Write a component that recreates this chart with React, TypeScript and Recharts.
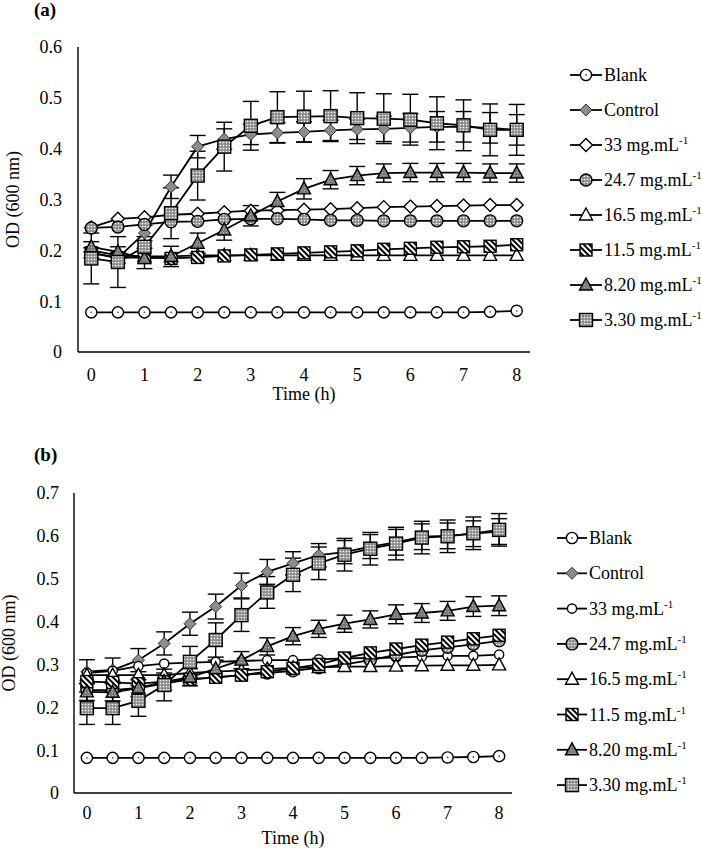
import React from 'react';
import { LineChart, Line, XAxis, YAxis, ErrorBar, Legend, Label } from 'recharts';

const FONT = '"Liberation Serif", "Times New Roman", Times, serif';

// ---------- shared ----------
const time = [0, 0.5, 1, 1.5, 2, 2.5, 3, 3.5, 4, 4.5, 5, 5.5, 6, 6.5, 7, 7.5, 8];
const xTicks = [0, 1, 2, 3, 4, 5, 6, 7, 8];
const yTicksA = [0, 0.1, 0.2, 0.3, 0.4, 0.5, 0.6];
const yTicksB = [0, 0.1, 0.2, 0.3, 0.4, 0.5, 0.6, 0.7];
const legendLabels = ['Blank', 'Control', '33 mg.mL', '24.7 mg.mL', '16.5 mg.mL', '11.5 mg.mL', '8.20 mg.mL', '3.30 mg.mL'];
const legendSup = ['', '', '-1', '-1', '-1', '-1', '-1', '-1'];

// ---------- panel (a) ----------
const blankA = [0.078, 0.078, 0.078, 0.078, 0.078, 0.078, 0.078, 0.078, 0.078, 0.078, 0.078, 0.078, 0.078, 0.078, 0.078, 0.079, 0.081];
const controlA = [0.195, 0.185, 0.234, 0.325, 0.404, 0.419, 0.428, 0.431, 0.433, 0.436, 0.438, 0.439, 0.441, 0.443, 0.443, 0.441, 0.437];
const controlErrA = [0.01, 0.01, 0.015, 0.023, 0.022, 0.02, 0.02, 0.02, 0.02, 0.02, 0.02, 0.025, 0.028, 0.03, 0.03, 0.03, 0.03];
const c33A = [0.245, 0.262, 0.265, 0.27, 0.272, 0.275, 0.278, 0.279, 0.28, 0.281, 0.283, 0.285, 0.286, 0.287, 0.288, 0.289, 0.289];
const c247A = [0.244, 0.246, 0.251, 0.256, 0.257, 0.261, 0.262, 0.262, 0.261, 0.259, 0.259, 0.258, 0.258, 0.258, 0.258, 0.258, 0.258];
const c165A = [0.2, 0.19, 0.188, 0.188, 0.19, 0.19, 0.19, 0.19, 0.19, 0.19, 0.19, 0.19, 0.19, 0.19, 0.19, 0.19, 0.19];
const c115A = [0.195, 0.185, 0.186, 0.184, 0.186, 0.189, 0.191, 0.193, 0.195, 0.197, 0.199, 0.202, 0.204, 0.206, 0.207, 0.208, 0.211];
const c820A = [0.207, 0.197, 0.184, 0.188, 0.214, 0.24, 0.268, 0.296, 0.321, 0.339, 0.347, 0.352, 0.353, 0.353, 0.353, 0.352, 0.352];
const c820ErrA = [0.01, 0.01, 0.02, 0.02, 0.02, 0.02, 0.02, 0.018, 0.02, 0.018, 0.018, 0.018, 0.018, 0.018, 0.018, 0.018, 0.018];
const c330A = [0.184, 0.177, 0.207, 0.273, 0.347, 0.404, 0.445, 0.462, 0.463, 0.464, 0.46, 0.459, 0.457, 0.45, 0.446, 0.437, 0.437];
const c330ErrA = [0.05, 0.05, 0.02, 0.05, 0.048, 0.048, 0.048, 0.05, 0.05, 0.05, 0.05, 0.049, 0.05, 0.052, 0.05, 0.051, 0.05];

// ---------- panel (b) ----------
const blankB = [0.082, 0.082, 0.082, 0.082, 0.082, 0.082, 0.082, 0.082, 0.082, 0.082, 0.082, 0.082, 0.082, 0.082, 0.083, 0.084, 0.086];
const controlB = [0.283, 0.287, 0.31, 0.349, 0.395, 0.435, 0.484, 0.516, 0.536, 0.555, 0.562, 0.575, 0.585, 0.598, 0.6, 0.605, 0.61];
const controlErrB = [0.028, 0.028, 0.027, 0.027, 0.027, 0.029, 0.029, 0.029, 0.027, 0.027, 0.027, 0.028, 0.03, 0.03, 0.03, 0.03, 0.03];
const c33B = [0.28, 0.285, 0.296, 0.302, 0.304, 0.306, 0.308, 0.31, 0.31, 0.312, 0.314, 0.315, 0.316, 0.318, 0.32, 0.32, 0.323];
const c247B = [0.24, 0.24, 0.245, 0.255, 0.265, 0.27, 0.275, 0.28, 0.285, 0.292, 0.3, 0.31, 0.322, 0.333, 0.34, 0.347, 0.355];
const c165B = [0.275, 0.275, 0.275, 0.275, 0.28, 0.283, 0.286, 0.289, 0.292, 0.293, 0.295, 0.295, 0.296, 0.297, 0.298, 0.298, 0.299];
const c115B = [0.26, 0.258, 0.255, 0.26, 0.265, 0.27, 0.275, 0.283, 0.291, 0.3, 0.315, 0.327, 0.336, 0.345, 0.352, 0.36, 0.368];
const c820B = [0.236, 0.235, 0.245, 0.26, 0.27, 0.29, 0.31, 0.342, 0.366, 0.383, 0.395, 0.405, 0.417, 0.42, 0.425, 0.435, 0.437];
const c820ErrB = [0.02, 0.02, 0.02, 0.02, 0.02, 0.02, 0.02, 0.02, 0.02, 0.02, 0.02, 0.02, 0.022, 0.022, 0.022, 0.023, 0.023];
const c330B = [0.198, 0.198, 0.215, 0.252, 0.306, 0.357, 0.415, 0.468, 0.509, 0.536, 0.556, 0.57, 0.582, 0.596, 0.599, 0.606, 0.614];
const c330ErrB = [0.038, 0.038, 0.036, 0.037, 0.036, 0.04, 0.038, 0.037, 0.039, 0.038, 0.038, 0.038, 0.038, 0.038, 0.038, 0.038, 0.038];

type Kind =
  | 'blank' | 'grayDiamond' | 'whiteDiamond' | 'dotCircle' | 'whiteTriangle'
  | 'stripeSquare' | 'grayTriangle' | 'dotSquare' | 'smallCircle';

const kindsA: Kind[] = ['blank', 'grayDiamond', 'whiteDiamond', 'dotCircle', 'whiteTriangle', 'stripeSquare', 'grayTriangle', 'dotSquare'];
const kindsB: Kind[] = ['blank', 'grayDiamond', 'smallCircle', 'dotCircle', 'whiteTriangle', 'stripeSquare', 'grayTriangle', 'dotSquare'];
const keys = ['blank', 'control', 'c33', 'c247', 'c165', 'c115', 'c820', 'c330'];

const buildData = (s: number[][], errs: { control: number[]; c820: number[]; c330: number[] }) =>
  time.map((t, i) => ({
    t,
    blank: s[0][i],
    control: s[1][i],
    c33: s[2][i],
    c247: s[3][i],
    c165: s[4][i],
    c115: s[5][i],
    c820: s[6][i],
    c330: s[7][i],
    controlErr: errs.control[i],
    c820Err: errs.c820[i],
    c330Err: errs.c330[i],
  }));

const dataA = buildData([blankA, controlA, c33A, c247A, c165A, c115A, c820A, c330A], { control: controlErrA, c820: c820ErrA, c330: c330ErrA });
const dataB = buildData([blankB, controlB, c33B, c247B, c165B, c115B, c820B, c330B], { control: controlErrB, c820: c820ErrB, c330: c330ErrB });

function Marker({ kind, cx, cy }: { kind: Kind; cx: number; cy: number }) {
  if (cx == null || cy == null || isNaN(cx) || isNaN(cy)) return null;
  const sw = 1.4;
  switch (kind) {
    case 'blank':
      return (
        <g>
          <circle cx={cx} cy={cy} r={5.6} fill="#fff" stroke="#000" strokeWidth={sw} />
          <circle cx={cx} cy={cy} r={0.9} fill="#555" />
        </g>
      );
    case 'smallCircle':
      return <circle cx={cx} cy={cy} r={4.6} fill="#fff" stroke="#000" strokeWidth={sw} />;
    case 'grayDiamond': {
      const s = 6;
      return <polygon points={`${cx},${cy - s} ${cx + s},${cy} ${cx},${cy + s} ${cx - s},${cy}`} fill="#8c8c8c" stroke="#333" strokeWidth={1} />;
    }
    case 'whiteDiamond': {
      const s = 6.5;
      return <polygon points={`${cx},${cy - s} ${cx + s},${cy} ${cx},${cy + s} ${cx - s},${cy}`} fill="#fff" stroke="#000" strokeWidth={sw} />;
    }
    case 'dotCircle':
      return <circle cx={cx} cy={cy} r={6} fill="url(#dotsPat)" stroke="#000" strokeWidth={sw} />;
    case 'whiteTriangle':
      return <polygon points={`${cx},${cy - 7} ${cx + 6.5},${cy + 5} ${cx - 6.5},${cy + 5}`} fill="#fff" stroke="#000" strokeWidth={sw} />;
    case 'grayTriangle':
      return <polygon points={`${cx},${cy - 7} ${cx + 6.5},${cy + 5} ${cx - 6.5},${cy + 5}`} fill="url(#grayDotsPat)" stroke="#000" strokeWidth={sw} />;
    case 'stripeSquare':
      return <rect x={cx - 6} y={cy - 6} width={12} height={12} fill="url(#stripePat)" stroke="#000" strokeWidth={sw} />;
    case 'dotSquare':
      return <rect x={cx - 6.5} y={cy - 6.5} width={13} height={13} fill="url(#dotsPat)" stroke="#000" strokeWidth={sw} />;
    default:
      return null;
  }
}

function LegendBox({ kinds, rowGap, lineLen }: { kinds: Kind[]; rowGap: number; lineLen: number }) {
  return (
    <svg width={150} height={300} style={{ overflow: 'visible', display: 'block' }}>
      {legendLabels.map((lab, i) => {
        const y = 20 + i * rowGap;
        return (
          <g key={lab}>
            <line x1={2} x2={2 + lineLen} y1={y} y2={y} stroke="#000" strokeWidth={1.8} />
            <Marker kind={kinds[i]} cx={2 + lineLen / 2} cy={y} />
            <text x={4 + lineLen} y={y + 6} style={{ fontFamily: FONT, fontSize: 18 }} fill="#000">
              {lab}
              {legendSup[i] ? (
                <tspan dy={-7} style={{ fontSize: 11 }}>
                  {legendSup[i]}
                </tspan>
              ) : null}
            </text>
          </g>
        );
      })}
    </svg>
  );
}

const tickStyle = { fontSize: 18, fill: '#000', style: { fontFamily: FONT } };

function Panel({
  data, kinds, yTicks, yMax, width, height, margin, yWidth, xHeight, yTickMargin, xTickMargin,
  yLabelOffset, xLabelOffset, legendPos, legendGap, legendLine,
}: any) {
  return (
    <LineChart width={width} height={height} data={data} margin={margin} style={{ fontFamily: FONT }}>
      <XAxis
        dataKey="t"
        type="number"
        domain={[-0.25, 8.25]}
        ticks={xTicks}
        tickLine={false}
        axisLine={{ stroke: '#000', strokeWidth: 1.4 }}
        tick={tickStyle}
        tickMargin={xTickMargin}
        height={xHeight}
        allowDataOverflow
      >
        <Label value="Time (h)" position="insideBottom" offset={xLabelOffset} style={{ fontSize: 18, fill: '#000', fontFamily: FONT }} />
      </XAxis>
      <YAxis
        type="number"
        domain={[0, yMax]}
        ticks={yTicks}
        tickLine={false}
        axisLine={{ stroke: '#000', strokeWidth: 1.4 }}
        tick={tickStyle}
        tickMargin={yTickMargin}
        width={yWidth}
        allowDataOverflow
      >
        <Label
          value="OD (600 nm)"
          angle={-90}
          position="insideLeft"
          offset={yLabelOffset}
          style={{ fontSize: 18, fill: '#000', fontFamily: FONT, textAnchor: 'middle' }}
        />
      </YAxis>
      {keys.map((k, i) => (
        <Line
          key={k}
          type="linear"
          dataKey={k}
          stroke="#000"
          strokeWidth={1.8}
          isAnimationActive={false}
          activeDot={false}
          legendType="none"
          dot={(p: any) => <Marker key={`${k}-${p.index}`} kind={kinds[i]} cx={p.cx} cy={p.cy} />}
        >
          {k === 'control' || k === 'c820' || k === 'c330' ? (
            <ErrorBar dataKey={`${k}Err`} width={8} stroke="#000" strokeWidth={1.4} direction="y" isAnimationActive={false} />
          ) : null}
        </Line>
      ))}
      <Legend
        layout="horizontal"
        verticalAlign="middle"
        align="center"
        wrapperStyle={{ left: legendPos.left, top: legendPos.top, width: 150, height: 300 }}
        content={() => <LegendBox kinds={kinds} rowGap={legendGap} lineLen={legendLine} />}
      />
    </LineChart>
  );
}

export default function App() {
  return (
    <div style={{ position: 'absolute', left: 0, top: 0, width: 702, height: 850, background: '#fff', overflow: 'hidden', fontFamily: FONT }}>
      <svg width={0} height={0} style={{ position: 'absolute' }}>
        <defs>
          <pattern id="dotsPat" width="3" height="3" patternUnits="userSpaceOnUse">
            <rect width="3" height="3" fill="#8a8a8a" />
            <circle cx="1.5" cy="1.5" r="0.85" fill="#fff" />
          </pattern>
          <pattern id="grayDotsPat" width="3" height="3" patternUnits="userSpaceOnUse">
            <rect width="3" height="3" fill="#7a7a7a" />
            <circle cx="1.5" cy="1.5" r="0.6" fill="#bbb" />
          </pattern>
          <pattern id="stripePat" width="4" height="4" patternUnits="userSpaceOnUse" patternTransform="rotate(-45)">
            <rect width="4" height="4" fill="#fff" />
            <rect width="2" height="4" fill="#000" />
          </pattern>
        </defs>
      </svg>

      <div style={{ position: 'absolute', left: 34, top: 0, fontFamily: FONT, fontWeight: 'bold', fontSize: 19, lineHeight: '20px', color: '#000' }}>(a)</div>
      <div style={{ position: 'absolute', left: 34, top: 445, fontFamily: FONT, fontWeight: 'bold', fontSize: 19, lineHeight: '20px', color: '#000' }}>(b)</div>

      <div style={{ position: 'absolute', left: 0, top: 0 }}>
        <Panel
          data={dataA}
          kinds={kindsA}
          yTicks={yTicksA}
          yMax={0.6}
          width={702}
          height={420}
          margin={{ top: 47, right: 172, bottom: 8, left: 0 }}
          yWidth={78}
          xHeight={60}
          yTickMargin={10}
          xTickMargin={10}
          yLabelOffset={13}
          xLabelOffset={12}
          legendPos={{ left: 568, top: 55 }}
          legendGap={35}
          legendLine={32}
        />
      </div>

      <div style={{ position: 'absolute', left: 0, top: 430 }}>
        <Panel
          data={dataB}
          kinds={kindsB}
          yTicks={yTicksB}
          yMax={0.7}
          width={702}
          height={420}
          margin={{ top: 63, right: 190, bottom: 2, left: 0 }}
          yWidth={74}
          xHeight={55}
          yTickMargin={9}
          xTickMargin={7}
          yLabelOffset={9}
          xLabelOffset={4}
          legendPos={{ left: 555, top: 88 }}
          legendGap={35.3}
          legendLine={30}
        />
      </div>
    </div>
  );
}
